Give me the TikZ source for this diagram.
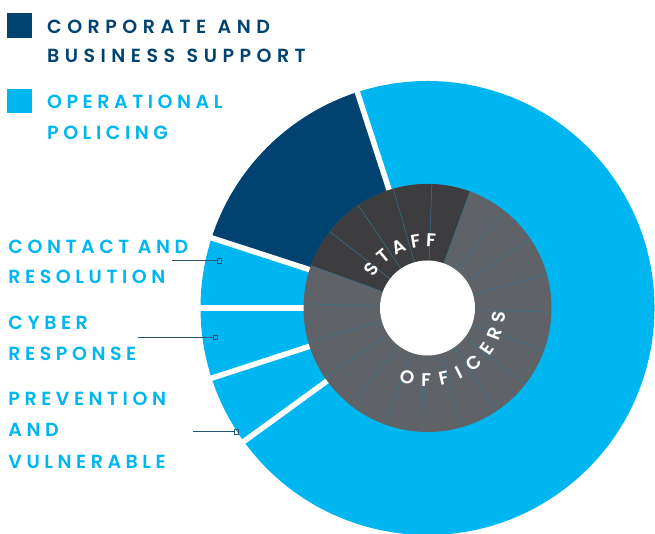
\documentclass[tikz,border=0pt]{standalone}
\usepackage{fontspec}
\IfFontExistsTF{Poppins SemiBold}{%
  \newfontfamily\labfont{Poppins SemiBold}
}{%
  \newfontfamily\labfont{Lato Bold}
}
\definecolor{opblue}{RGB}{0,182,240}
\definecolor{navy}{RGB}{0,67,112}
\definecolor{staffgray}{RGB}{61,61,63}
\definecolor{ringgray}{RGB}{95,98,102}
\definecolor{tealline}{RGB}{50,118,148}
\definecolor{leader}{RGB}{40,85,115}
% letter-spaced text: | marks a word gap
\newcommand\lsgap{4.5pt}
\newcommand\wordgap{4pt}
\newcommand\spaced[1]{\spacedi#1\relax}
\def\spacedi#1{\ifx#1\relax\else\ifx#1|\hspace{\wordgap}\else#1\hspace{\lsgap}\fi\expandafter\spacedi\fi}
\tikzset{
  navytxt/.style={inner sep=0pt, anchor=base west, text=navy,
    font={\labfont\fontsize{19}{20}\selectfont\def\lsgap{5.5pt}\def\wordgap{6pt}}},
  bluetxt/.style={inner sep=0pt, anchor=base west, text=opblue,
    font={\labfont\fontsize{19}{20}\selectfont\def\lsgap{4.55pt}\def\wordgap{4pt}}},
  ringtxt/.style={inner sep=0pt, text=white, font=\labfont\fontsize{18.5}{19}\selectfont},
  marker/.style={draw=leader, line width=0.7pt, rectangle, minimum size=4.5pt, inner sep=0pt},
  leaderline/.style={draw=leader, line width=0.9pt},
  gapline/.style={white, line width=5.5pt},
  sliceline/.style={tealline, line width=0.5pt}
}
\begin{document}
\begin{tikzpicture}[x=1pt,y=1pt]
\useasboundingbox (0,0) rectangle (655,533);
% donut
\begin{scope}[shift={(427.5,225)}]
  \fill[opblue] (0,0) -- (-144:227) arc[start angle=-144, end angle=108, radius=227pt] -- cycle;
  \fill[navy] (0,0) -- (108:227) arc[start angle=108, end angle=162, radius=227pt] -- cycle;
  \fill[opblue] (0,0) -- (162:227) arc[start angle=162, end angle=216, radius=227pt] -- cycle;
  \foreach \a in {108,162,180,198,216} \draw[gapline] (\a:100) -- (\a:236);
  \fill[ringgray] (0,0) circle[radius=124pt];
  \fill[staffgray] (70:47.5) -- (70:124) arc[start angle=70, end angle=160, radius=124pt]
     -- (160:47.5) arc[start angle=160, end angle=70, radius=47.5pt] -- cycle;
  \foreach \k in {0,...,19} \draw[sliceline] ({18*\k-2}:47.5) -- ({18*\k-2}:124);
  \fill[white] (0,0) circle[radius=47.5pt];
  \foreach \ch/\a [count=\i] in {S/145,T/130,A/115,F/100,F/87}
    \node[ringtxt, rotate=\a-90] (st\i) at (\a:68) {\ch};
  \foreach \ch/\a [count=\i] in {O/-106.5,F/-91,F/-77,I/-64,C/-50,E/-34.5,R/-21,S/-7}
    \node[ringtxt, rotate=\a+90] (of\i) at (\a:72) {\ch};
\end{scope}
% legend
\fill[navy] (7.3,495.3) rectangle (31.7,519.7);
\fill[opblue] (7.3,419.7) rectangle (31.7,443.7);
\node[navytxt] (leg1a) at (47,499) {\spaced{CORPORATE|AND}};
\node[navytxt] (leg1b) at (47,470.7) {\spaced{BUSINESS|SUPPORT}};
\node[bluetxt] (leg2a) at (47,424.7) {\spaced{OPERATIONAL}};
\node[bluetxt] (leg2b) at (47,393.7) {\spaced{POLICING}};
% labels
\node[bluetxt] (la1) at (8.3,279.7) {\spaced{CONTACT|AND}};
\node[bluetxt] (la2) at (8.3,249) {\spaced{RESOLUTION}};
\node[bluetxt] (lb1) at (8.3,203.7) {\spaced{CYBER}};
\node[bluetxt] (lb2) at (8.3,173) {\spaced{RESPONSE}};
\node[bluetxt] (lc1) at (8.3,128) {\spaced{PREVENTION}};
\node[bluetxt] (lc2) at (8.3,96.3) {\spaced{AND}};
\node[bluetxt] (lc3) at (8.3,64.7) {\spaced{VULNERABLE}};
% leaders
\coordinate (ca) at (171.7,272.3);
\coordinate (cb) at (138.3,195.7);
\coordinate (cc) at (193.3,101.3);
\node[marker] (ma) at (219.3,272.3) {};
\node[marker] (mb) at (215.3,195.7) {};
\node[marker] (mc) at (236.3,101.3) {};
\draw[leaderline] (ca) -- (ma.west);
\draw[leaderline] (cb) -- (mb.west);
\draw[leaderline] (cc) -- (mc.west);
\end{tikzpicture}
\end{document}
